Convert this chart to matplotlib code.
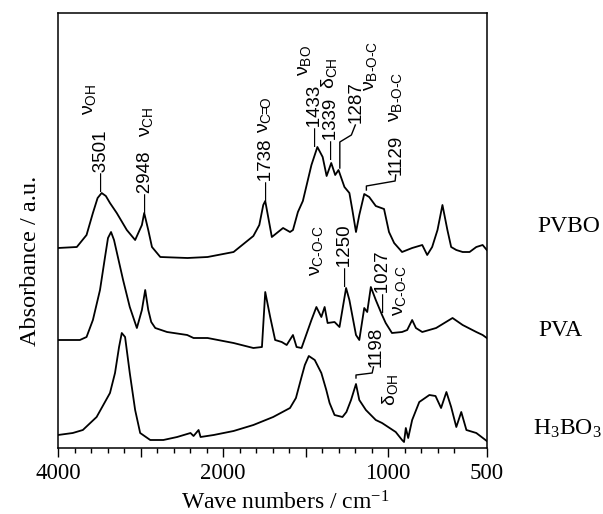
import numpy as np
import matplotlib
matplotlib.use("Agg")
import matplotlib.pyplot as plt
from matplotlib.ticker import FixedLocator, FixedFormatter

# ---------------- data (wavenumber cm-1, absorbance a.u.) ----------------
pvbo_w = [4000, 3772, 3654, 3577, 3520, 3471, 3420, 3370, 3288, 3166, 3065, 2983, 2955, 2906, 2861,
          2760, 2430, 2187, 1936, 1876, 1816, 1780, 1756, 1744, 1704, 1636, 1594, 1576,
          1546, 1516, 1464, 1428, 1396, 1372, 1344, 1320, 1300, 1264, 1234, 1216, 1194,
          1174, 1144, 1114, 1074, 1024, 995, 969, 929, 878, 827, 802, 777, 750, 725, 700,
          681, 655, 623, 588, 554, 522, 501]
pvbo_a = [200, 201, 213, 235, 250, 255, 252, 245, 235, 218, 208, 223, 235, 218, 201,
          191, 190, 191, 196, 204, 212, 223, 243, 247, 211, 220, 216, 218,
          236, 247, 283, 301, 291, 272, 285, 273, 278, 261, 255, 238, 216,
          233, 254, 251, 242, 239, 216, 205, 196, 200, 203, 193, 201, 218, 243, 218,
          201, 198, 196, 196, 201, 203, 198]

pva_w = [4000, 3735, 3654, 3577, 3491, 3430, 3394, 3357, 3321, 3288, 3211, 3130, 3044,
         2983, 2943, 2906, 2870, 2821, 2678, 2434, 2357, 2187, 1936, 1816, 1764, 1744,
         1714, 1684, 1644, 1614, 1576, 1554, 1524, 1464, 1434, 1404, 1384, 1366, 1324,
         1294, 1254, 1234, 1194, 1174, 1144, 1126, 1104, 1074, 1036, 1014, 980, 929, 903,
         878, 859, 827, 757, 674, 623, 554, 522, 501]
pva_a = [108, 108, 111, 128, 158, 191, 210, 216, 208, 196, 168, 141, 120,
         138, 158, 138, 126, 120, 116, 113, 110, 110, 105, 100, 101, 156,
         131, 108, 106, 103, 113, 101, 100, 128, 141, 131, 141, 125, 126,
         121, 160, 148, 113, 108, 140, 136, 161, 148, 133, 125, 115, 116, 118,
         128, 120, 116, 120, 130, 123, 116, 113, 110]

h3bo3_w = [4000, 3821, 3699, 3532, 3370, 3309, 3260, 3227, 3187, 3130, 3065, 3004, 2882,
           2723, 2556, 2394, 2357, 2296, 2272, 2113, 1936, 1816, 1696, 1594, 1558, 1524,
           1504, 1480, 1444, 1404, 1374, 1354, 1324, 1276, 1252, 1224, 1194, 1174, 1134,
           1074, 1036, 961, 929, 919, 910, 898, 878, 842, 791, 760, 732, 705, 681, 655,
           630, 604, 554, 501]
h3bo3_a = [13, 15, 18, 31, 55, 75, 101, 115, 111, 75, 38, 15, 8,
           8, 11, 15, 12, 18, 11, 13, 17, 23, 31, 40, 50, 71,
           83, 92, 88, 75, 58, 45, 33, 31, 36, 48, 64, 48, 38,
           28, 25, 16, 8, 6, 20, 10, 28, 46, 53, 52, 40, 56, 41, 21,
           36, 18, 15, 7]

samples = ["PVBO", "PVA", r"$\mathregular{H_3BO_3}$"]
sample_pos = [(1.117, 0.497), (1.119, 0.257), (1.107, 0.030)]

major_ticks = [4000, 3000, 2000, 1500, 1000, 500]
major_labels = ["4000", "", "2000", "", "1000", "500"]

# peak labels with a straight dash: (text, wavenumber, bottom a.u.)
dash_labels = [("—3501", 3467, 257), ("—2948", 2943, 236), ("—1738", 1739, 248),
               ("—1433", 1439, 302), ("—1339", 1344, 289), ("—1250", 1258, 162),
               ("—1027", 1030, 136)]
# peak labels with bent leaders: (text, text_w, text_bottom, leader_w, leader_a)
bent_labels = [("1287", 1194, 325, [1292, 1292, 1222, 1198], [280, 306, 313, 323]),
               ("1129", 961, 273, [1131, 1131, 964, 961], [258, 262, 267, 273]),
               ("1198", 1072, 81, [1194, 1194, 1096, 1088], [70, 73, 75, 81])]
# band assignments: (text, wavenumber, centre a.u.)
H = "\u2010"
bands = [(r"$\mathregular{\nu_{OH}}$", 3613, 349), (r"$\mathregular{\nu_{CH}}$", 2930, 326),
         (r"$\mathregular{\nu_{C\!\!=\!\!O}}$", 1747, 333), (r"$\mathregular{\nu_{BO}}$", 1504, 387),
         (r"$\mathregular{\delta_{CH}}$", 1358, 375),
         (r"$\mathregular{\nu_{B" + H + "O" + H + "C}}$", 1105, 382),
         (r"$\mathregular{\nu_{B" + H + "O" + H + "C}}$", 961, 351),
         (r"$\mathregular{\nu_{C" + H + "O" + H + "C}}$", 1435, 197),
         (r"$\mathregular{\nu_{C" + H + "O" + H + "C}}$", 944, 157),
         (r"$\mathregular{\delta_{OH}}$", 990, 58)]

# ---------------- broken (piecewise linear) wavenumber scale ----------------
BW = np.array([500.0, 1000.0, 2000.0, 4000.0])
BU = np.array([-26.0, -20.0, -10.0, 0.0])


def fwd(w):
    w = np.asarray(w, dtype=float)
    u = np.interp(w, BW, BU)
    u = np.where(w > 4000, (w - 4000) / 200.0, u)
    u = np.where(w < 500, -26 - (500 - w) / (500 / 6.0), u)
    return u


def inv(u):
    u = np.asarray(u, dtype=float)
    w = np.interp(u, BU, BW)
    w = np.where(u > 0, 4000 + u * 200.0, w)
    w = np.where(u < -26, 500 - (-26 - u) * (500 / 6.0), w)
    return w


serif = "Liberation Serif"
sans = "Liberation Sans"

fig = plt.figure(figsize=(6.03, 5.14), dpi=100)
ax = fig.add_axes([58 / 603, 66 / 514, 429 / 603, 435 / 514])
ax.set_xscale("function", functions=(fwd, inv))

for w, a in [(pvbo_w, pvbo_a), (pva_w, pva_a), (h3bo3_w, h3bo3_a)]:
    ax.plot(w, a, color="black", lw=1.3, solid_joinstyle="round")

ax.set_xlim(4000, 500)
ax.set_ylim(0, 435)

# ticks
minor = list(np.arange(3800, 2000, -200)) + list(np.arange(1900, 1000, -100))
minor = [m for m in minor if m not in (3000, 1500)]
minor += list(inv([-21, -22, -23, -24]))
ax.xaxis.set_major_locator(FixedLocator(major_ticks))
ax.xaxis.set_major_formatter(FixedFormatter(major_labels))
ax.xaxis.set_minor_locator(FixedLocator(minor))
ax.tick_params(axis="x", which="major", direction="out", length=6.5, width=1.0,
               labelsize=16.5, pad=4)
ax.tick_params(axis="x", which="minor", direction="out", length=3.6, width=1.0)
for lab in ax.get_xticklabels():
    lab.set_fontfamily(serif)
ax.set_yticks([])
for s in ax.spines.values():
    s.set_linewidth(1.1)

ax.set_xlabel(r"Wave numbers / cm$\mathregular{^{-1}}$", fontsize=17, family=serif)
ax.xaxis.set_label_coords((285 - 58) / 429, (448 - 503) / 435)
ax.xaxis.label.set_va("center")
ax.set_ylabel("Absorbance / a.u.", fontsize=17.5, family=serif)
ax.yaxis.set_label_coords((30 - 58) / 429, (448 - 261) / 435)
ax.yaxis.label.set_va("center")
ax.yaxis.label.set_ha("center")

for t, (x, y) in zip(samples, sample_pos):
    ax.text(x, y, t, transform=ax.transAxes, fontsize=17, family=serif,
            ha="left", va="baseline", clip_on=False)

for t, w, a in dash_labels:
    ax.text(w, a, t, rotation=90, ha="center", va="bottom", fontsize=13.5, family=sans)

for t, tw, ta, lw_, la_ in bent_labels:
    ax.plot(lw_, la_, color="black", lw=1.0)
    ax.text(tw, ta, t, rotation=90, ha="center", va="bottom", fontsize=13.5, family=sans)

for t, w, a in bands:
    ax.text(w, a, t, rotation=90, ha="center", va="center", fontsize=14, family=sans)

fig.savefig("out.png", dpi=100)
